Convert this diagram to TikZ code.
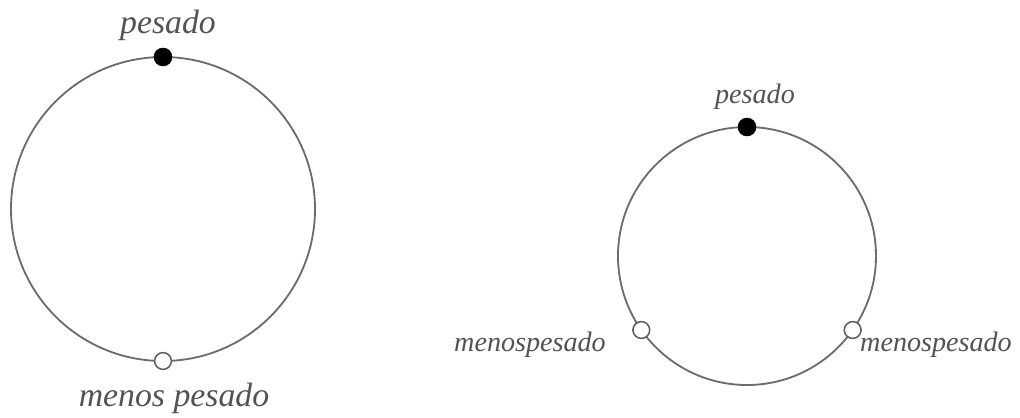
\documentclass[tikz,border=0pt]{standalone}
\usepackage{fontspec}
\setmainfont{Liberation Serif}
\usetikzlibrary{positioning,calc}

\begin{document}
\begin{tikzpicture}[
    x=0.025cm, y=0.025cm,
    ring/.style={draw=gray!85!black, line width=1.3pt},
    heavy/.style={circle, fill=black, draw=black, inner sep=0pt, minimum size=0.45cm},
    light/.style={circle, fill=white, draw=gray!75!black, line width=1.1pt, inner sep=0pt, minimum size=0.42cm},
    tag/.style={font=\fontsize{24}{28}\selectfont\itshape, text=gray!65!black, inner sep=0pt},
    smalltag/.style={tag, font=\fontsize{20}{24}\selectfont\itshape}
]
\useasboundingbox (0,0) rectangle (1020,417);

% Left circle: one heavy and one light point
\coordinate (c1) at (163,208);
\draw[ring] (c1) circle (152);
\node[heavy] (top1) at ($(c1)+(90:152)$) {};
\node[light] (bot1) at ($(c1)+(270:152)$) {};
\node[tag] (heavy1) at (168,392) {pesado};
\node[tag] (light1) at (174,19) {menos pesado};

% Right circle: one heavy and two light points
\coordinate (c2) at (747,161);
\draw[ring] (c2) circle (129);
\node[heavy] (top2) at ($(c2)+(90:129)$) {};
\node[light] (left2) at ($(c2)+(215:129)$) {};
\node[light] (right2) at ($(c2)+(325:129)$) {};
\node[smalltag] (heavy2) at (755,320) {pesado};
\node[smalltag] (lightl2) at (530,72) {menospesado};
\node[smalltag] (lightr2) at (936,72) {menospesado};

\end{tikzpicture}
\end{document}
